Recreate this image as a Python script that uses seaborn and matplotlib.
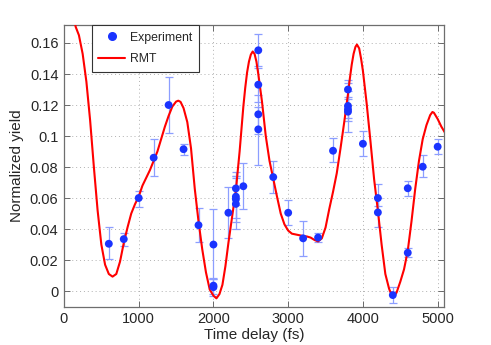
import numpy as np
import pandas as pd
import matplotlib
matplotlib.use("Agg")
import matplotlib.pyplot as plt
import seaborn as sns
from matplotlib.ticker import FuncFormatter
from matplotlib.lines import Line2D

exp_delay = [600, 800, 1000, 1200, 1400, 1600, 1800, 2000, 2000, 2000,
             2200, 2300, 2300, 2300, 2300, 2400, 2600, 2600, 2600, 2600,
             2800, 3000, 3200, 3400, 3600, 3800, 3800, 3800, 3800, 4000,
             4200, 4200, 4400, 4600, 4600, 4800, 5000]
exp_yield = [0.0305, 0.0335, 0.0600, 0.0860, 0.1200, 0.0915, 0.0425, 0.0300, 0.0035, 0.0025,
             0.0505, 0.0662, 0.0609, 0.0592, 0.0562, 0.0676, 0.1553, 0.1331, 0.1140, 0.1043,
             0.0735, 0.0505, 0.0340, 0.0345, 0.0905, 0.1300, 0.1194, 0.1172, 0.1157, 0.0950,
             0.0600, 0.0507, -0.0026, 0.0663, 0.0247, 0.0802, 0.0931]
exp_low = [0.0205, 0.0290, 0.0545, 0.0740, 0.1020, 0.0880, 0.0315, 0.0075, -0.0020, -0.0035,
           0.0340, 0.0555, 0.0474, 0.0443, 0.0398, 0.0527, 0.1450, 0.1220, 0.1010, 0.0815,
           0.0635, 0.0425, 0.0228, 0.0318, 0.0830, 0.1240, 0.1115, 0.1100, 0.1028, 0.0870,
           0.0550, 0.0415, -0.0078, 0.0615, 0.0217, 0.0733, 0.0885]
exp_high = [0.0412, 0.0375, 0.0648, 0.0980, 0.1380, 0.0950, 0.0535, 0.0528, 0.0085, 0.0075,
            0.0670, 0.0770, 0.0744, 0.0740, 0.0726, 0.0825, 0.1656, 0.1440, 0.1265, 0.1190,
            0.0840, 0.0585, 0.0452, 0.0372, 0.0985, 0.1360, 0.1340, 0.1250, 0.1290, 0.1030,
            0.0690, 0.0600, 0.0028, 0.0712, 0.0275, 0.0880, 0.0980]

# ---- RMT theory curve ----
rmt_delay = [130, 156, 200, 250, 300, 350, 400, 450, 500, 550, 600, 650, 700, 750,
             800, 850, 900, 950, 1000, 1050, 1100, 1150, 1200, 1250, 1300, 1350, 1400,
             1450, 1500, 1530, 1560, 1600, 1650, 1700, 1750, 1800, 1850, 1900, 1950,
             2000, 2040, 2080, 2120, 2160, 2200, 2250, 2300, 2350, 2400, 2425, 2450, 2475, 2500,
             2525, 2550, 2575, 2600, 2625, 2650, 2700, 2750, 2800, 2850, 2900, 2950, 3000, 3050,
             3100, 3150, 3200, 3250, 3300, 3350, 3400, 3450, 3500, 3550, 3600, 3650,
             3700, 3750, 3800, 3825, 3850, 3875, 3900, 3920, 3950, 3975, 4000, 4050, 4100, 4150, 4200,
             4250, 4300, 4350, 4375, 4400, 4425, 4450, 4500, 4550, 4600, 4650, 4700, 4750,
             4800, 4850, 4900, 4930, 4950, 5000, 5050, 5100]
rmt_yield = [0.178, 0.1705, 0.165, 0.153, 0.135, 0.110, 0.080, 0.052, 0.030, 0.017, 0.011, 0.0093, 0.011, 0.019,
             0.031, 0.041, 0.050, 0.056, 0.061, 0.068, 0.073, 0.078, 0.084, 0.090, 0.098, 0.106, 0.113,
             0.119, 0.1222, 0.1228, 0.1220, 0.118, 0.109, 0.092, 0.066, 0.045, 0.027, 0.012, 0.001,
             -0.003, -0.0047, -0.002, 0.004, 0.016, 0.031, 0.048, 0.065, 0.090, 0.119, 0.131, 0.141, 0.148, 0.1525,
             0.1545, 0.153, 0.148, 0.140, 0.131, 0.122, 0.100, 0.084, 0.0725, 0.061, 0.050, 0.043, 0.039, 0.037,
             0.0365, 0.036, 0.0355, 0.0352, 0.0345, 0.033, 0.032, 0.034, 0.041, 0.053, 0.064, 0.076,
             0.092, 0.109, 0.127, 0.137, 0.146, 0.153, 0.1575, 0.159, 0.1565, 0.150, 0.142, 0.121, 0.097, 0.072, 0.052,
             0.030, 0.011, 0.0015, -0.0015, -0.003, -0.0028, -0.001, 0.006, 0.014, 0.026, 0.045, 0.066, 0.084,
             0.098, 0.107, 0.1135, 0.1155, 0.115, 0.111, 0.106, 0.102]

x_ticks = [0, 1000, 2000, 3000, 4000, 5000]
y_ticks = [0, 0.02, 0.04, 0.06, 0.08, 0.1, 0.12, 0.14, 0.16]

exp_df = pd.DataFrame({"delay": exp_delay, "yield": exp_yield})
rmt_df = pd.DataFrame({"delay": rmt_delay, "yield": rmt_yield})

sns.set_style("white")
plt.rcParams["font.family"] = ["Liberation Sans", "DejaVu Sans"]

fig = plt.figure(figsize=(4.91, 3.45), dpi=100)
ax = fig.add_axes([0.1303, 0.111, 0.774, 0.8165])

blue = (0.1, 0.2, 1.0)
yerr = np.array([np.array(exp_yield) - np.array(exp_low),
                 np.array(exp_high) - np.array(exp_yield)])
ax.errorbar(exp_delay, exp_yield, yerr=yerr, fmt="none", ecolor=(0.55, 0.62, 1.0),
            elinewidth=0.9, capsize=3, capthick=0.9, zorder=2)
sns.lineplot(data=rmt_df, x="delay", y="yield", ax=ax, color="red", lw=1.5,
             sort=False, zorder=3, legend=False)
sns.scatterplot(data=exp_df, x="delay", y="yield", ax=ax, color=blue, s=32,
                edgecolor="none", zorder=4, legend=False)

ax.set_xlim(0, 5085)
ax.set_ylim(-0.0101, 0.1716)
ax.set_xticks(x_ticks)
ax.set_yticks(y_ticks)
ax.yaxis.set_major_formatter(FuncFormatter(lambda v, p: "%g" % round(v, 4)))
ax.tick_params(direction="in", length=4, width=0.6, color="#555555", labelsize=10.5,
               top=True, right=True, bottom=True, left=True, pad=4)
ax.grid(True, linestyle=(0, (1, 3)), color="#b0b0b0", linewidth=0.7)
for s in ax.spines.values():
    s.set_color("#6e6e6e")
    s.set_linewidth(0.9)
ax.set_xlabel("Time delay (fs)", fontsize=11, labelpad=1)
ax.set_ylabel("Normalized yield", fontsize=11, labelpad=4)

handles = [Line2D([], [], marker="o", color=blue, ls="none", markersize=5.5),
           Line2D([], [], color="red", lw=1.5)]
leg = ax.legend(handles, ["Experiment", "RMT"], loc="upper left",
                bbox_to_anchor=(0.073, 1.0), borderaxespad=0, fontsize=8.8,
                frameon=True, fancybox=False, edgecolor="#333333", framealpha=1,
                borderpad=0.55, handlelength=2.2, handletextpad=0.35,
                labelspacing=0.75)
leg.get_frame().set_linewidth(0.8)

fig.savefig("out.png", dpi=100)
